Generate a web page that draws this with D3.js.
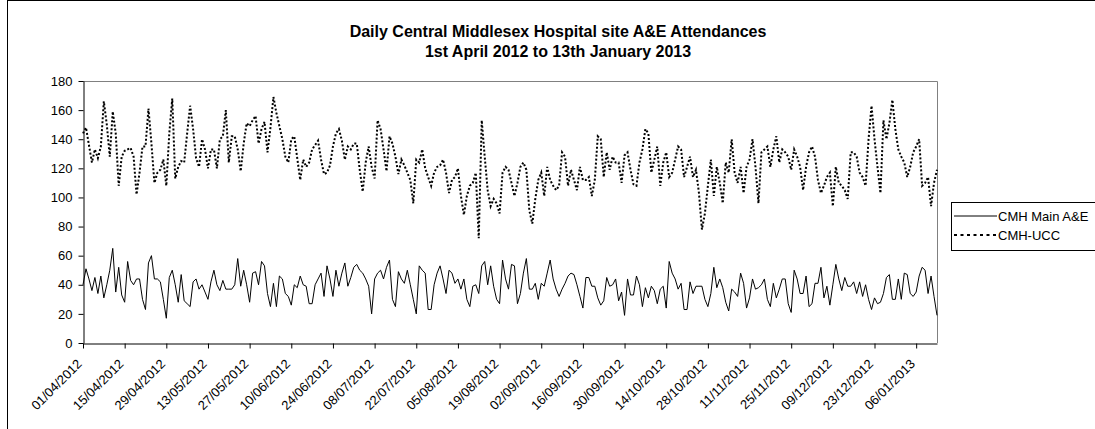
<!DOCTYPE html>
<html><head><meta charset="utf-8">
<script src="https://cdn.jsdelivr.net/npm/d3@7"></script>
<style>
body{margin:0;background:#fff}
svg{display:block;font-family:"Liberation Sans",Arial,sans-serif}
</style>
</head><body>
<svg id="c" width="1095" height="429"></svg>
<script>
const titleLines = ["Daily Central Middlesex Hospital site A&E Attendances", "1st April 2012 to 13th January 2013"];
const startDate = "2012-04-01";
const endDate = "2013-01-13";
const seriesNames = ["CMH Main A&E", "CMH-UCC"];
const tickLabels = ["01/04/2012","15/04/2012","29/04/2012","13/05/2012","27/05/2012","10/06/2012","24/06/2012","08/07/2012","22/07/2012","05/08/2012","19/08/2012","02/09/2012","16/09/2012","30/09/2012","14/10/2012","28/10/2012","11/11/2012","25/11/2012","09/12/2012","23/12/2012","06/01/2013"];
const yTicks = [0,20,40,60,80,100,120,140,160,180];

const mainAE = [
40,51,44,36,45,34,46,31,40,50,65,35,52,33,28,56,43,40,44,44,30,23,55,60,44,44,42,30,17,45,50,40,28,47,29,27,25,42,44,37,40,35,30,42,50,40,36,43,37,37,37,40,58,39,50,40,28,
48,49,40,56,53,34,25,41,25,46,44,34,32,26,40,38,46,40,39,27,27,40,44,48,32,
53,44,32,50,39,48,55,39,45,52,54,50,48,44,39,20,44,48,50,44,52,57,30,25,49,44,41,50,40,30,20,53,50,48,23,23,40,48,53,44,34,50,48,41,44,37,44,30,25,39,40,34,
53,56,40,53,39,30,27,57,44,37,54,53,27,34,48,58,37,37,41,30,41,39,48,57,44,37,32,37,41,46,48,47,40,32,24,45,45,39,39,31,26,29,45,39,40,44,29,35,19,44,33,33,46,40,25,38,31,39,36,27,37,39,24,56,48,44,37,41,23,23,42,34,39,39,39,30,25,
34,52,38,44,38,28,22,37,35,32,48,41,24,31,44,37,38,40,44,30,25,41,31,37,44,44,27,21,50,44,34,34,46,25,27,41,41,52,31,39,26,40,54,44,36,45,39,39,42,34,42,32,40,30,23,31,27,28,34,45,47,30,30,44,30,48,47,34,32,35,46,52,50,34,46,32,19];

const ucc = [
144,148,136,124,133,127,135,166,150,128,159,144,108,128,132,133,134,128,102,117,135,135,161,137,110,117,119,126,108,144,168,113,121,125,124,144,163,147,127,121,140,133,120,133,133,120,140,142,160,124,142,142,133,118,137,151,
149,153,156,137,147,152,131,148,169,158,149,140,128,124,140,142,127,112,126,121,124,133,136,139,126,116,117,122,135,144,147,139,126,135,133,137,137,119,104,124,135,121,113,153,147,133,118,142,137,128,116,126,122,117,112,96,126,124,133,120,114,108,117,121,122,126,117,103,112,114,120,101,88,101,108,110,117,72,
153,128,105,94,99,96,89,117,121,119,110,101,110,121,124,119,91,82,99,112,117,101,121,112,108,105,108,131,128,108,119,112,105,121,112,112,114,101,112,142,140,114,131,119,128,124,124,110,129,131,119,109,108,124,133,147,144,117,126,135,108,124,131,114,117,126,135,133,114,121,128,114,119,103,78,89,108,
126,101,121,110,96,124,117,140,117,110,121,103,121,126,140,121,96,131,133,135,121,133,142,124,133,131,128,119,133,128,121,105,121,131,135,128,112,103,108,114,117,94,121,110,108,105,99,131,131,128,117,114,108,140,163,140,121,103,153,140,151,167,147,133,128,124,114,121,131,135,140,108,110,114,94,110,119];

const parse = d3.utcParse("%Y-%m-%d");
const parseTick = d3.utcParse("%d/%m/%Y");
const dates = d3.utcDay.range(parse(startDate), d3.utcDay.offset(parse(endDate), 1));
const tickDates = tickLabels.map(parseTick);

const svg = d3.select("#c");
const L = 83, R = 937, T = 81, B = 343;

// outer frame
svg.append("rect").attr("x", 7.5).attr("y", 0.5).attr("width", 1200).attr("height", 600)
  .attr("fill", "none").attr("stroke", "#000").attr("stroke-width", 1);

const x = d3.scaleUtc().domain([dates[0], dates[dates.length - 1]]).range([L, R]);
const y = d3.scaleLinear().domain([0, 180]).range([B, T]);

// plot area border (top/right grey)
svg.append("path").attr("d", `M${L},${T+0.5}H${R+0.5}V${B}`)
  .attr("fill", "none").attr("stroke", "#808080").attr("stroke-width", 1);

// title
svg.append("g").selectAll("text").data(titleLines).join("text")
  .attr("x", 558).attr("y", (d, i) => 37 + i * 20)
  .attr("text-anchor", "middle").attr("font-weight", "bold").attr("font-size", 16)
  .text(d => d);

// y axis
const ya = svg.append("g").attr("transform", `translate(${L + 0.5},0)`)
  .call(d3.axisLeft(y).tickValues(yTicks).tickSize(5).tickSizeOuter(0).tickPadding(6));
ya.selectAll("text").attr("font-size", 13).attr("font-family", "Liberation Sans, Arial, sans-serif").attr("fill", "#000");
ya.selectAll("line,path").attr("stroke", "#000");

// x axis
const xa = svg.append("g").attr("transform", `translate(0,${B + 0.5})`)
  .call(d3.axisBottom(x).tickValues(tickDates).tickFormat((d, i) => tickLabels[i]).tickSize(5).tickSizeOuter(0));
xa.selectAll("line,path").attr("stroke", "#000");
xa.selectAll("text")
  .attr("font-size", 13).attr("font-family", "Liberation Sans, Arial, sans-serif").attr("fill", "#000")
  .attr("text-anchor", "end").attr("dy", "0.35em").attr("y", 0)
  .attr("transform", "translate(-4,18) rotate(-45)");

// lines
const line = d3.line().x((d, i) => x(dates[i])).y(d => y(d));
svg.append("path").datum(mainAE).attr("d", line)
  .attr("fill", "none").attr("stroke", "#000").attr("stroke-width", 1);
svg.append("path").datum(ucc).attr("d", line)
  .attr("fill", "none").attr("stroke", "#000").attr("stroke-width", 2).attr("stroke-dasharray", "2,2");

// legend
const lg = svg.append("g");
lg.append("rect").attr("x", 951.5).attr("y", 202.5).attr("width", 200).attr("height", 48)
  .attr("fill", "#fff").attr("stroke", "#000");
const styles = [{w: 1, dash: null}, {w: 2, dash: "3,3.5"}];
seriesNames.forEach((n, i) => {
  const yy = 216 + i * 19;
  lg.append("line").attr("x1", 954).attr("x2", 997).attr("y1", yy).attr("y2", yy)
    .attr("stroke", "#000").attr("stroke-width", styles[i].w).attr("stroke-dasharray", styles[i].dash);
  lg.append("text").attr("x", 998).attr("y", yy).attr("dy", "0.35em").attr("font-size", 13).text(n);
});
</script>
</body></html>
